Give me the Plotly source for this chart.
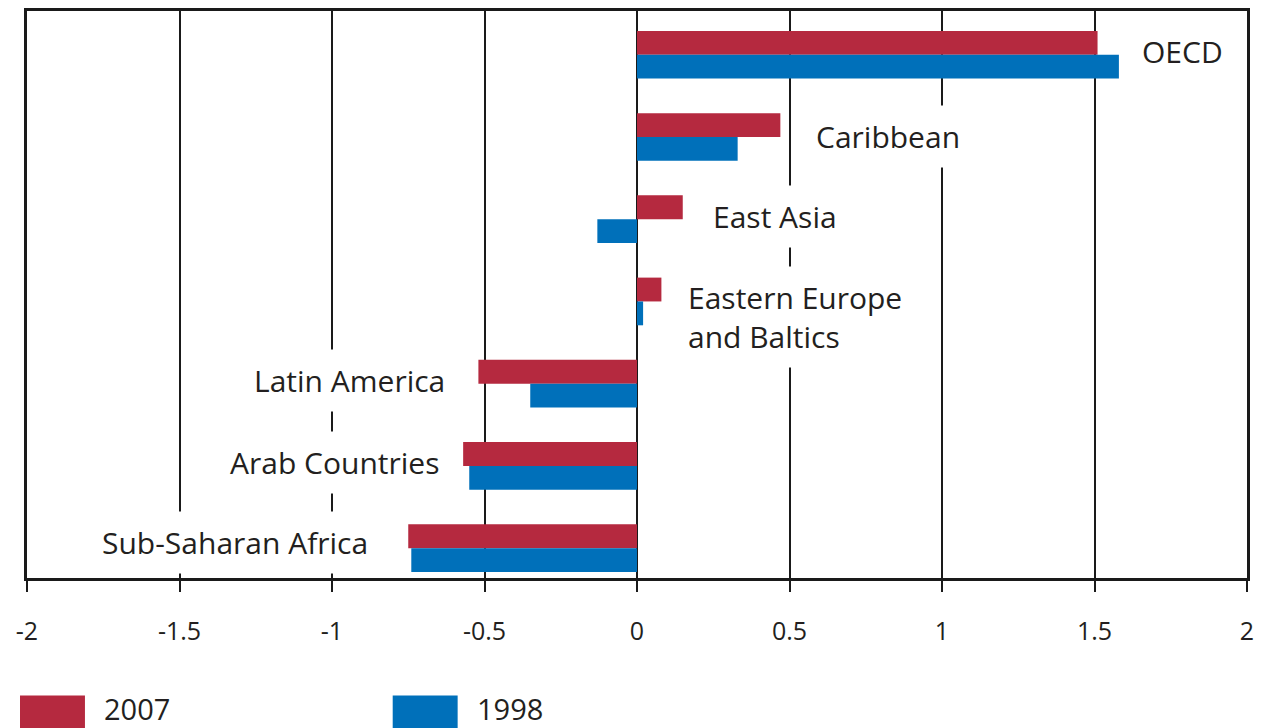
import plotly.graph_objects as go

# ---- data ----
regions = ["Sub-Saharan Africa", "Arab Countries", "Latin America",
           "Eastern Europe and Baltics", "East Asia", "Caribbean", "OECD"]
region_labels = ["Sub-Saharan Africa", "Arab Countries", "Latin America",
                 "Eastern Europe<br>and Baltics", "East Asia", "Caribbean", "OECD"]
values_2007 = [-0.75, -0.57, -0.52, 0.08, 0.15, 0.47, 1.51]
values_1998 = [-0.74, -0.55, -0.35, 0.02, -0.13, 0.33, 1.58]
series_names = ["2007", "1998"]
x_ticks = [-2, -1.5, -1, -0.5, 0, 0.5, 1, 1.5, 2]
x_tick_labels = ["-2", "-1.5", "-1", "-0.5", "0", "0.5", "1", "1.5", "2"]

# ---- style ----
RED = "#B5293F"
BLUE = "#0070BA"
TXT = "#231F20"
LINE = "#1a1a1a"
FONT = "Open Sans"
BAR_W = 0.29
label_gap = [39, 23, 32, 26, 29, 35, 22]      # px between bar end and label text
label_dy = [6, 3, 3, -16, 3, 0, 3]             # px vertical shift of label
PAD = 10

fig = go.Figure()
fig.add_trace(go.Bar(
    y=regions, x=values_2007, name=series_names[0], orientation="h",
    marker=dict(color=RED, line=dict(width=0)), width=BAR_W, offset=0,
    showlegend=False))
fig.add_trace(go.Bar(
    y=regions, x=values_1998, name=series_names[1], orientation="h",
    marker=dict(color=BLUE, line=dict(width=0)), width=BAR_W, offset=-BAR_W,
    showlegend=False))

# region labels with white boxes (they interrupt the grid lines)
for i, (r, lab) in enumerate(zip(regions, region_labels)):
    hi = max(values_2007[i], values_1998[i])
    lo = min(values_2007[i], values_1998[i])
    if hi > 0 and lo >= -0.2:
        xa, anchor, shift = hi, "left", label_gap[i] - PAD
    else:
        xa, anchor, shift = lo, "right", -(label_gap[i] - PAD)
    fig.add_annotation(
        x=xa, y=r, xref="x", yref="y", text=lab, showarrow=False,
        xanchor=anchor, yanchor="middle", xshift=shift, yshift=label_dy[i],
        align="left", bgcolor="white", borderpad=PAD,
        font=dict(family=FONT, size=30, color=TXT))

# plot geometry in pixels (for the hand-made legend)
W, H = 1262, 728
ML, MR, MT, MB = 27, 14, 8, 150
pw, ph = W - ML - MR, H - MT - MB


def px(x):
    return (x - ML) / pw


def py(y):
    return (H - MB - y) / ph


legend_items = [(series_names[0], RED, 20, 102), (series_names[1], BLUE, 393, 475)]
for name, col, x0, tx in legend_items:
    fig.add_shape(type="rect", xref="paper", yref="paper",
                  x0=px(x0), x1=px(x0 + 65), y0=py(696), y1=py(732),
                  fillcolor=col, line=dict(width=0))
    fig.add_annotation(x=px(tx), y=py(709), xref="paper", yref="paper",
                       text=name, showarrow=False, xanchor="left",
                       yanchor="middle",
                       font=dict(family=FONT, size=29, color=TXT))

fig.update_layout(
    width=W, height=H,
    margin=dict(l=ML, r=MR, t=MT, b=MB, pad=0),
    paper_bgcolor="white", plot_bgcolor="white",
    barmode="overlay",
    showlegend=False,
    font=dict(family=FONT, color=TXT),
)
fig.update_xaxes(
    range=[-2, 2], tickmode="array", tickvals=x_ticks, ticktext=x_tick_labels,
    showgrid=True, gridcolor=LINE, gridwidth=2,
    zeroline=True, zerolinecolor=LINE, zerolinewidth=2,
    showline=True, linecolor=LINE, linewidth=2.5, mirror=True,
    ticks="outside", ticklen=11, tickwidth=2, tickcolor=LINE,
    tickfont=dict(family=FONT, size=25, color=TXT),
    ticklabelstandoff=18,
)
fig.update_yaxes(
    type="category", categoryorder="array", categoryarray=regions,
    range=[-0.363, 6.532],
    showgrid=False, zeroline=False, showticklabels=False, ticks="",
    showline=True, linecolor=LINE, linewidth=2.5, mirror=True,
)

fig.write_html("out.html",
               config={"displayModeBar": False},
               post_script="document.body.style.margin='0px';"
                           "document.body.style.overflow='hidden';")
